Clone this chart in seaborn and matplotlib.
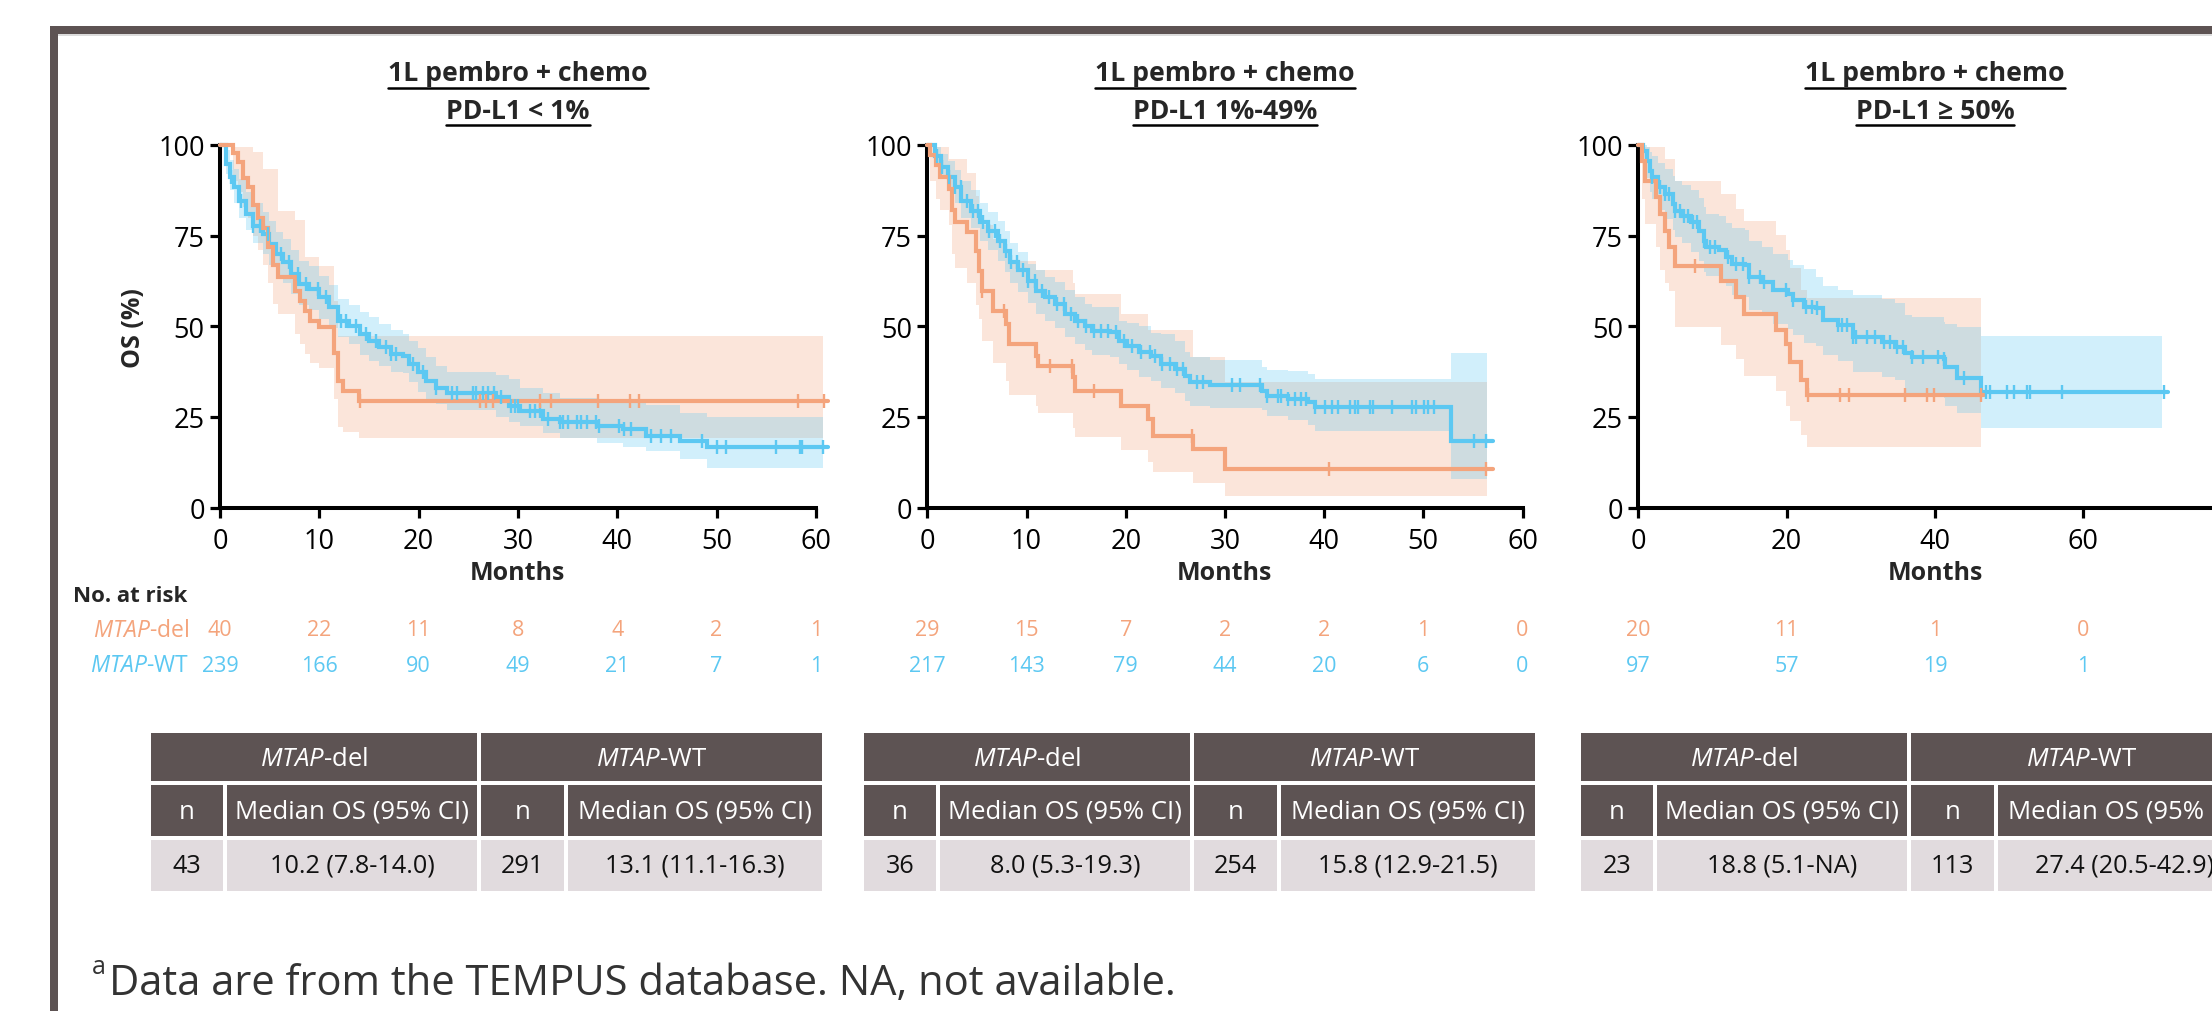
import numpy as np
import matplotlib
matplotlib.use("Agg")
import matplotlib.pyplot as plt
import seaborn as sns
from matplotlib import font_manager as fm
from matplotlib.patches import Rectangle
from matplotlib.lines import Line2D

sns.set_style("ticks")
_avail = {f.name for f in fm.fontManager.ttflist}
FONT = "Open Sans" if "Open Sans" in _avail else ("Lato" if "Lato" in _avail else "DejaVu Sans")
plt.rcParams['font.family'] = [FONT, 'DejaVu Sans']
plt.rcParams['mathtext.fontset'] = 'custom'
plt.rcParams['mathtext.rm'] = FONT
plt.rcParams['mathtext.it'] = FONT + ':italic'
plt.rcParams['mathtext.bf'] = FONT + ':bold'

# ---------------- data ----------------
TITLE_L1 = "1L pembro + chemo"
TITLE_L2 = ["PD-L1 < 1%", "PD-L1 1%-49%", "PD-L1 \u2265 50%"]

# Panel 1 (PD-L1 < 1%)
P1_DEL_T = [0, 1.3, 1.8, 2.3, 2.8, 3.3, 3.8, 4.3, 4.8, 5.3, 5.8, 7.6, 8.1, 8.6, 9.1, 10.0, 11.5, 11.9, 12.4, 14.0]
P1_DEL_S = [100, 97.7, 95.3, 91.0, 88.4, 83.5, 80.0, 77.0, 72.0, 67.0, 63.5, 59.8, 57.0, 54.3, 51.5, 49.7, 42.5, 35.0, 32.2, 29.4]
P1_DEL_HI = [100, 99.4, 99.4, 99.4, 99.4, 98, 98, 93.4, 93.4, 93.4, 81.9, 79.2, 79.2, 69.1, 69.1, 66.7, 57.1, 47.2, 47.2, 47.2]
P1_DEL_LO = [100, 90, 87, 83, 80, 75, 71, 67, 62, 56.1, 53.4, 47.8, 45, 42.3, 40, 38.6, 30, 22.1, 20.7, 19.3]
P1_DEL_CENS = [14.1, 26.2, 26.8, 27.5, 32.2, 33.3, 38.1, 41.3, 42.2, 58.2, 60.8]
P1_DEL_END = 61.2

P1_WT_T = [0, 0.62, 0.96, 1.46, 1.96, 2.63, 3.3, 4.3, 4.98, 5.66, 6.3, 7.17, 8.0, 9.0, 10.0, 11.0, 11.87, 13.0, 14.05, 15.05,
           16.06, 17.2, 18.4, 19.08, 19.9, 20.76, 21.8, 22.9, 27.8, 29.1, 30.2, 32.5, 34.2, 38.0, 40.6, 42.9, 46.3, 49.0]
P1_WT_S = [100, 94.8, 91.1, 88.3, 84.6, 81.0, 77.7, 75.4, 72.7, 70.0, 67.6, 64.4, 61.6, 60.3, 58.0, 55.2, 51.5, 50.1, 47.8, 46.0,
           44.2, 42.3, 41.9, 39.6, 37.3, 35.0, 33.1, 31.7, 30.4, 28.1, 26.7, 24.4, 23.5, 22.6, 21.7, 19.8, 18.4, 16.6]
P1_WT_HI = [100, 98.5, 96, 93.5, 90.5, 87, 84, 81.5, 79, 76, 74, 71, 68, 66.5, 64, 61.5, 57.5, 56, 54, 52.5,
            50.5, 49, 48, 46, 44, 41.5, 39, 37.5, 36.5, 35.4, 33.1, 31.7, 30.3, 29.5, 28.8, 28.2, 26.2, 25.1]
P1_WT_LO = [100, 92, 87.5, 84, 80, 76.5, 73, 70, 67, 64, 62, 59, 56, 54.5, 52, 49.5, 47, 45, 42, 40.5,
            39, 37.5, 37, 34.5, 32, 30, 28.5, 27, 25, 23.5, 22.5, 20.5, 19.1, 17.9, 16.8, 15.6, 13.3, 11.0]
P1_WT_CENS = [1.12, 2.13, 3.3, 3.98, 4.82, 6.16, 6.99, 7.84, 8.68, 9.85, 10.69, 12.2, 12.7, 13.7, 14.7, 15.7, 16.7, 17.2,
              17.7, 19.4, 20.4, 21.8, 23.4, 23.9, 25.5, 25.8, 26.5, 27.0, 27.6, 28.3, 29.3, 29.7, 30.0, 31.2, 31.7, 32.2,
              33.0, 34.2, 34.5, 35.0, 36.0, 36.4, 37.0, 37.9, 38.2, 40.2, 40.7, 41.4, 43.4, 44.4, 45.4, 48.5, 50.0, 51.0,
              56.0, 58.4, 58.6, 60.7]
P1_WT_END = 61.2
P1_BAND_END = 60.7

# Panel 2 (PD-L1 1%-49%)
P2_DEL_T = [0, 0.3, 0.9, 1.3, 2.2, 2.5, 2.8, 4.0, 4.9, 5.2, 5.5, 6.6, 7.9, 8.2, 11.0, 11.2, 14.7, 14.9, 19.5, 22.2, 22.8, 26.8, 30.0]
P2_DEL_S = [100, 97.2, 94.4, 91.1, 88.0, 82.0, 78.7, 76.0, 70.8, 65.3, 59.8, 54.3, 50.6, 45.1, 41.9, 39.1, 35.9, 32.2, 28.1, 24.4, 19.8, 16.1, 10.6]
P2_DEL_HI = [100, 99.4, 99.4, 99.4, 96.2, 96.2, 96.2, 92.2, 86, 82, 78, 74, 71, 68, 65.4, 65.4, 62, 59, 53.4, 48.9, 48.9, 41.6, 34.6]
P2_DEL_LO = [100, 90, 85, 82, 78, 70, 66, 62, 56, 52, 46, 40, 35, 31, 28, 26, 22, 19.5, 16, 12.5, 9.7, 6.7, 3.3]
P2_DEL_CENS = [5.5, 7.75, 12.4, 14.6, 16.8, 26.7, 40.5, 56.3]
P2_DEL_END = 57.0

P2_WT_T = [0, 0.74, 1.42, 2.09, 2.76, 3.44, 4.45, 5.29, 6.13, 7.14, 7.8, 8.3, 9.16, 10.2, 11.0, 11.9, 12.9, 13.9, 14.9, 15.9,
           16.6, 18.4, 19.3, 20.1, 21.3, 22.6, 23.6, 25.0, 26.0, 26.5, 28.5, 33.7, 34.2, 36.4, 38.4, 39.1, 52.8]
P2_WT_S = [100, 97.1, 93.8, 91.1, 88.3, 84.6, 81.9, 78.7, 76.4, 73.6, 70.8, 67.6, 65.4, 62.6, 59.8, 58.0, 56.1, 53.4, 51.5, 50.1,
           48.7, 48.3, 46.0, 44.6, 42.8, 41.9, 39.6, 38.2, 36.4, 34.6, 33.7, 32.2, 30.8, 29.9, 29.0, 27.6, 18.4]
P2_WT_HI = [100, 99.5, 97.5, 95.5, 93, 90, 87.5, 84, 81.5, 79, 76.4, 73, 70.4, 67.2, 65.4, 63.5, 62.2, 60, 58, 56.1,
            55.2, 55.2, 51.5, 51, 50, 48.2, 47.8, 46, 43, 41.4, 40.7, 38.7, 38.0, 37.7, 36.8, 35.4, 42.6]
P2_WT_LO = [100, 94.5, 90.5, 87.5, 84, 80, 77, 73.5, 71, 68, 65, 62, 59.5, 56.5, 53.5, 51.5, 49.5, 47, 45, 43.5,
            42, 41.5, 39.5, 38, 36, 35, 33, 31.5, 29.5, 28, 27.4, 26.9, 25.3, 24.1, 22.8, 21.2, 7.9]
P2_WT_CENS = [1.0, 1.5, 2.2, 2.8, 3.4, 4.0, 4.6, 5.1, 5.6, 6.2, 6.8, 7.3, 7.9, 8.4, 9.0, 9.6, 10.2, 10.9, 11.6, 12.3,
              13.1, 13.8, 14.5, 15.2, 16.0, 16.8, 17.5, 18.2, 19.0, 19.8, 20.6, 21.5, 22.4, 23.0, 23.7, 24.5, 25.2,
              25.8, 27.2, 27.8, 30.7, 31.5, 33.5, 34.2, 35.4, 35.7, 36.4, 37.1, 37.7, 38.2, 39.1, 40.1, 40.8, 41.4,
              42.6, 43.1, 43.4, 44.6, 44.9, 46.8, 48.9, 49.3, 50.1, 50.5, 51.1, 55.1, 56.3]
P2_WT_END = 57.0
P2_BAND_END = 56.4

# Panel 3 (PD-L1 >= 50%)
P3_DEL_T = [0, 0.5, 0.9, 2.4, 2.9, 3.6, 4.1, 4.9, 11.1, 13.2, 14.2, 18.6, 19.9, 20.4, 21.9, 22.7]
P3_DEL_S = [100, 95.7, 90.2, 85.6, 81.0, 76.4, 71.8, 66.7, 62.6, 58.0, 53.4, 48.9, 45.2, 40.1, 35.1, 31.0]
P3_DEL_HI = [100, 99.4, 99.4, 99.4, 99.4, 96.2, 96.2, 90.2, 86.5, 82.4, 79.0, 75.1, 71.0, 66.0, 60.0, 57.8]
P3_DEL_LO = [100, 85, 78.2, 71.8, 65.4, 62, 59.8, 49.7, 44.9, 41.0, 36.4, 32.2, 28.1, 24.0, 19.9, 16.6]
P3_DEL_CENS = [7.65, 22.9, 27.15, 28.4, 35.9, 38.9, 39.8, 46.15]
P3_DEL_END = 46.6
P3_DEL_BAND_END = 46.15

P3_WT_T = [0, 0.65, 1.15, 1.65, 1.9, 2.65, 3.65, 4.65, 4.9, 5.9, 7.15, 8.15, 8.9, 9.15, 10.9, 11.9, 12.65, 14.4, 14.9, 16.65,
           18.15, 20.15, 20.9, 22.4, 23.9, 24.9, 26.9, 28.9, 32.9, 34.65, 35.9, 36.9, 41.15, 41.4, 42.9, 46.15]
P3_WT_S = [100, 98.4, 95.7, 92.9, 91.1, 88.3, 86.5, 83.7, 81.9, 80.5, 78.7, 76.4, 73.6, 71.8, 70.9, 69.1, 67.2, 66.8, 63.5, 62.2,
           59.9, 59.0, 57.2, 55.4, 54.9, 51.7, 50.3, 47.1, 45.7, 44.3, 42.5, 41.6, 41.1, 38.8, 35.6, 31.9]
P3_WT_HI = [100, 100, 99.5, 98, 97, 95, 93.5, 91.5, 90, 89, 87.5, 85.5, 83, 81, 80.5, 78.5, 77, 76.5, 73.5, 72,
            70, 68.4, 67, 65.7, 63.5, 61.2, 60, 58.5, 57.5, 56.3, 53.1, 52.5, 51.3, 50.5, 49.9, 47.2]
P3_WT_LO = [100, 95, 91, 87, 85, 82, 79.5, 76.5, 74.5, 73, 70.5, 68, 65, 63.8, 63, 61, 58.5, 58, 54.5, 53,
            50.5, 49.2, 47.5, 45.5, 44.5, 42, 40.5, 37.4, 36, 35.1, 31.5, 30.5, 30.1, 28, 26, 21.9]
P3_WT_CENS = [1.9, 2.9, 3.65, 4.15, 4.9, 5.65, 6.15, 6.65, 7.4, 7.9, 8.9, 9.65, 10.4, 12.15, 13.15, 14.15, 14.9, 16.4,
              16.9, 19.9, 20.9, 22.65, 23.4, 24.15, 26.9, 27.4, 28.15, 28.9, 29.4, 30.9, 31.9, 33.15, 33.9, 34.9,
              35.65, 36.9, 38.4, 40.4, 41.15, 43.9, 46.9, 47.4, 49.65, 50.65, 52.4, 52.8, 57.15, 70.9]
P3_WT_END = 71.4
P3_WT_BAND_END = 70.65

# Numbers at risk
RISK_TIMES_12 = [0, 10, 20, 30, 40, 50, 60]
RISK_TIMES_3 = [0, 20, 40, 60]
RISK_P1_DEL = [40, 22, 11, 8, 4, 2, 1]
RISK_P1_WT = [239, 166, 90, 49, 21, 7, 1]
RISK_P2_DEL = [29, 15, 7, 2, 2, 1, 0]
RISK_P2_WT = [217, 143, 79, 44, 20, 6, 0]
RISK_P3_DEL = [20, 11, 1, 0]
RISK_P3_WT = [97, 57, 19, 1]

# Summary tables
N_DEL = [43, 36, 23]
MED_DEL = ["10.2 (7.8-14.0)", "8.0 (5.3-19.3)", "18.8 (5.1-NA)"]
N_WT = [291, 254, 113]
MED_WT = ["13.1 (11.1-16.3)", "15.8 (12.9-21.5)", "27.4 (20.5-42.9)"]

FOOTNOTE = "Data are from the TEMPUS database. NA, not available."

# ---------------- style ----------------
ORANGE = "#F4A47C"
BLUE = "#5CC8F2"
DARK = "#5D5353"
CELL = "#E1DBDE"

W, H = 2212, 1012
fig = plt.figure(figsize=(W / 100, H / 100), dpi=100)
fig.patch.set_facecolor("white")


def fx(px):
    return px / W


def fy(py):
    return 1 - py / H


AX_TOP, AX_BOT = 146.0, 508.5


def ya(py):
    return (AX_BOT - py) / (AX_BOT - AX_TOP)


# background frame and tables
bg = fig.add_axes([0, 0, 1, 1], zorder=0)
bg.set_xlim(0, W)
bg.set_ylim(H, 0)
bg.axis("off")
bg.add_patch(Rectangle((50, 27), W - 50, 8, color=DARK, lw=0))
bg.add_patch(Rectangle((58, 35), W - 58, 2, color="#DCDCDC", lw=0))
bg.add_patch(Rectangle((50, 27), 8, H - 27, color=DARK, lw=0))

panels = [
    dict(x0=220.0, ppm=9.93, xmax=60, ticks=list(range(0, 61, 10)),
         curves=[(P1_DEL_T, P1_DEL_S, P1_DEL_LO, P1_DEL_HI, P1_DEL_CENS, P1_DEL_END, P1_BAND_END, ORANGE),
                 (P1_WT_T, P1_WT_S, P1_WT_LO, P1_WT_HI, P1_WT_CENS, P1_WT_END, P1_BAND_END, BLUE)],
         rt=RISK_TIMES_12, rdel=RISK_P1_DEL, rwt=RISK_P1_WT),
    dict(x0=927.3, ppm=9.92, xmax=60, ticks=list(range(0, 61, 10)),
         curves=[(P2_DEL_T, P2_DEL_S, P2_DEL_LO, P2_DEL_HI, P2_DEL_CENS, P2_DEL_END, P2_BAND_END, ORANGE),
                 (P2_WT_T, P2_WT_S, P2_WT_LO, P2_WT_HI, P2_WT_CENS, P2_WT_END, P2_BAND_END, BLUE)],
         rt=RISK_TIMES_12, rdel=RISK_P2_DEL, rwt=RISK_P2_WT),
    dict(x0=1638.2, ppm=7.42, xmax=80, ticks=list(range(0, 61, 20)),
         curves=[(P3_DEL_T, P3_DEL_S, P3_DEL_LO, P3_DEL_HI, P3_DEL_CENS, P3_DEL_END, P3_DEL_BAND_END, ORANGE),
                 (P3_WT_T, P3_WT_S, P3_WT_LO, P3_WT_HI, P3_WT_CENS, P3_WT_END, P3_WT_BAND_END, BLUE)],
         rt=RISK_TIMES_3, rdel=RISK_P3_DEL, rwt=RISK_P3_WT),
]

title_objs = []
for i, p in enumerate(panels):
    width_px = p["xmax"] * p["ppm"]
    ax = fig.add_axes([fx(p["x0"]), fy(AX_BOT), width_px / W, (AX_BOT - AX_TOP) / H], zorder=2)
    ax.set_facecolor("none")
    ax.set_xlim(0, p["xmax"])
    ax.set_ylim(0, 100)

    # confidence bands
    for (t, s, lo, hi, cens, tend, bend, col) in p["curves"]:
        tb = list(t) + [bend]
        poly = ax.fill_between(tb, list(lo) + [lo[-1]], list(hi) + [hi[-1]], step="post",
                               color=col, alpha=0.28, lw=0, zorder=1)
        poly.set_clip_on(False)
    # survival curves (blue first, orange on top)
    for (t, s, lo, hi, cens, tend, bend, col) in p["curves"][::-1]:
        te = list(t) + [tend]
        se = list(s) + [s[-1]]
        sns.lineplot(x=te, y=se, drawstyle="steps-post", color=col, lw=3.0, ax=ax,
                     estimator=None, sort=False, zorder=3)
        ax.lines[-1].set_clip_on(False)
        ax.lines[-1].set_solid_joinstyle("miter")
        idx = np.searchsorted(np.array(t), np.array(cens), side="right") - 1
        cy = np.array(s)[idx]
        sns.scatterplot(x=cens, y=cy, marker="|", color=col, s=110, linewidth=1.7, ax=ax, zorder=4)
        ax.collections[-1].set_clip_on(False)

    sns.despine(ax=ax)
    for sp in ("left", "bottom"):
        ax.spines[sp].set_linewidth(2.9)
        ax.spines[sp].set_color("black")
    ax.set_xticks(p["ticks"])
    ax.set_yticks([0, 25, 50, 75, 100])
    ax.tick_params(axis="both", length=7.5, width=2.3, labelsize=19.5, color="black",
                   labelcolor="black", direction="out")
    ax.tick_params(axis="y", pad=3.5)
    ax.tick_params(axis="x", pad=6.5)
    ax.set_xlabel("")
    ax.set_ylabel("")

    ax.text(p["xmax"] / 2, ya(574), "Months", transform=ax.get_xaxis_transform(), ha="center",
            va="center", fontsize=18, fontweight="bold")

    for tt, nd, nw in zip(p["rt"], p["rdel"], p["rwt"]):
        ax.text(tt, ya(631), str(nd), transform=ax.get_xaxis_transform(), ha="center", va="center",
                fontsize=15.5, color=ORANGE)
        ax.text(tt, ya(666), str(nw), transform=ax.get_xaxis_transform(), ha="center", va="center",
                fontsize=15.5, color=BLUE)

    cx = p["x0"] + width_px / 2
    t1 = fig.text(fx(cx), fy(74), TITLE_L1, ha="center", va="center", fontsize=19.2, fontweight="bold")
    t2 = fig.text(fx(cx), fy(112), TITLE_L2[i], ha="center", va="center", fontsize=19.2, fontweight="bold")
    title_objs.append((t1, 88.5))
    title_objs.append((t2, 126.0))

    # summary table
    X = [151, 864, 1581][i]
    hdr = [(X, 734, 326, 48, r"$\mathit{MTAP}$-del"), (X + 330, 734, 341, 48, r"$\mathit{MTAP}$-WT"),
           (X, 786, 72, 51, "n"), (X + 76, 786, 250, 51, "Median OS (95% CI)"),
           (X + 330, 786, 83, 51, "n"), (X + 417, 786, 254, 51, "Median OS (95% CI)")]
    for (x, y, w, h, lab) in hdr:
        bg.add_patch(Rectangle((x, y), w, h, color=DARK, lw=0))
        bg.text(x + w / 2, y + h / 2 + 1, lab, ha="center", va="center", color="white", fontsize=18.5)
    data = [(X, 72, str(N_DEL[i])), (X + 76, 250, MED_DEL[i]), (X + 330, 83, str(N_WT[i])),
            (X + 417, 254, MED_WT[i])]
    for (x, w, lab) in data:
        bg.add_patch(Rectangle((x, 841), w, 51, color=CELL, lw=0))
        bg.text(x + w / 2, 866.5, lab, ha="center", va="center", color="#111111", fontsize=18.2)

# axis label / at-risk labels
fig.text(fx(133), fy(328), "OS (%)", rotation=90, ha="center", va="center", fontsize=18, fontweight="bold")
fig.text(fx(73), fy(596), "No. at risk", ha="left", va="center", fontsize=16, fontweight="bold")
fig.text(fx(189), fy(631), r"$\mathit{MTAP}$-del", ha="right", va="center", fontsize=16.5, color=ORANGE)
fig.text(fx(189), fy(666), r"$\mathit{MTAP}$-WT", ha="right", va="center", fontsize=16.5, color=BLUE)

# footnote
fig.text(fx(92), fy(968), "a", ha="left", va="center", fontsize=18, color="#333333")
fig.text(fx(109), fy(984), FOOTNOTE, ha="left", va="center", fontsize=30, color="#333333")

# underline the titles
fig.canvas.draw()
rend = fig.canvas.get_renderer()
for txt, ypx in title_objs:
    bb = txt.get_window_extent(rend)
    fig.add_artist(Line2D([bb.x0 / W, bb.x1 / W], [fy(ypx), fy(ypx)], color="black", lw=1.8,
                          transform=fig.transFigure))

fig.savefig("out.png", dpi=100)
